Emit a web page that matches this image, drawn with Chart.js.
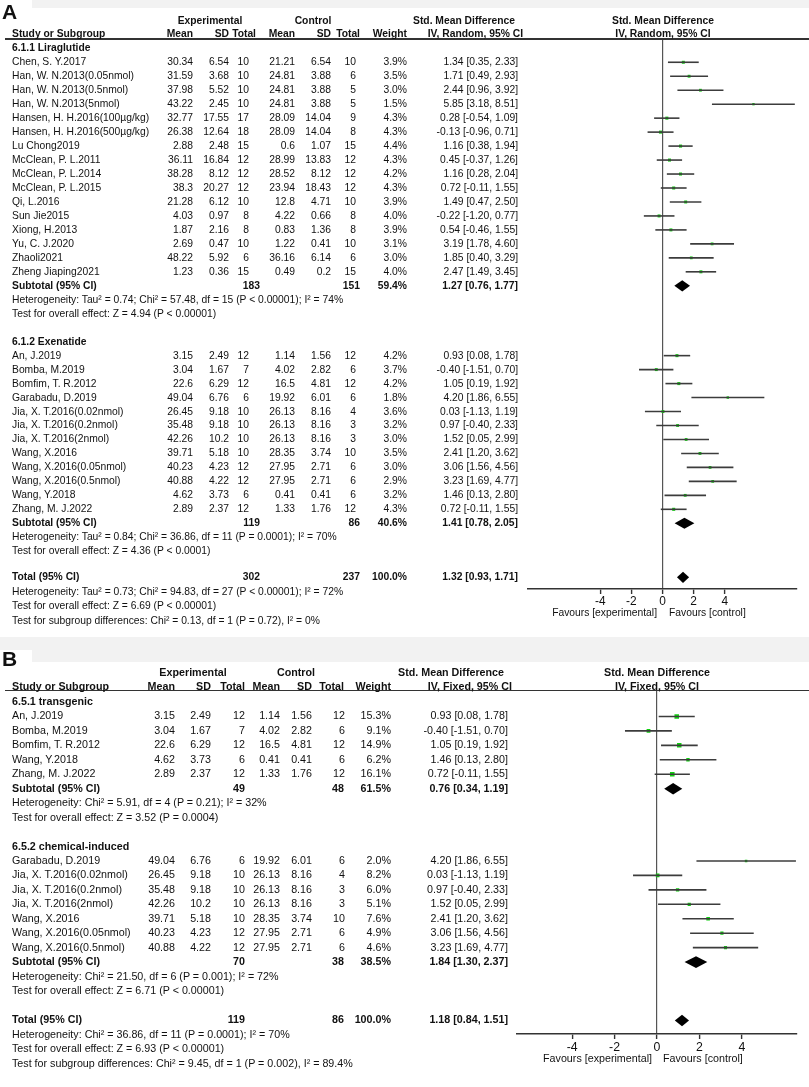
<!DOCTYPE html>
<html>
<head>
<meta charset="utf-8">
<script src="https://cdn.jsdelivr.net/npm/chart.js@4.4.1/dist/chart.umd.min.js"></script>
<style>
  body { margin: 0; background: #fff; width: 809px; height: 1087px; overflow: hidden;
         font-family: "Liberation Sans", Arial, sans-serif; color: #111; }
  .panel { position: absolute; left: 0; width: 809px; }
  .panel canvas { position: absolute; left: 0; top: 0; }
  .t { position: absolute; white-space: nowrap; line-height: 1; }
  .b { font-weight: bold; }
  .strip { position: absolute; background: #f2f2f2; }
  .letter { position: absolute; left: 2px; font-weight: bold; font-size: 21px; line-height: 1; }
  .rule { position: absolute; height: 1.5px; background: #333; }
</style>
</head>
<body>
<div class="strip" style="left:32px;top:0;width:777px;height:8px"></div>
<div class="strip" style="left:0;top:637px;width:809px;height:13px"></div>
<div class="strip" style="left:32px;top:650px;width:777px;height:12px"></div>
<div class="panel" id="panelA" style="top:0;height:640px"><canvas id="chartA" width="809" height="640"></canvas></div>
<div class="panel" id="panelB" style="top:640px;height:447px"><canvas id="chartB" width="809" height="447"></canvas></div>
<script>
// ---- Panel A: 6.1 GLP-1 analogues, random effects ----
const aGroupLabels = ["6.1.1 Liraglutide", "6.1.2 Exenatide"];
const aStudies = [
    "Chen, S. Y.2017", "Han, W. N.2013(0.05nmol)", "Han, W. N.2013(0.5nmol)", "Han, W. N.2013(5nmol)",
    "Hansen, H. H.2016(100µg/kg)", "Hansen, H. H.2016(500µg/kg)", "Lu Chong2019", "McClean, P. L.2011",
    "McClean, P. L.2014", "McClean, P. L.2015", "Qi, L.2016", "Sun Jie2015", "Xiong, H.2013",
    "Yu, C. J.2020", "Zhaoli2021", "Zheng Jiaping2021",
    "An, J.2019", "Bomba, M.2019", "Bomfim, T. R.2012", "Garabadu, D.2019", "Jia, X. T.2016(0.02nmol)",
    "Jia, X. T.2016(0.2nmol)", "Jia, X. T.2016(2nmol)", "Wang, X.2016", "Wang, X.2016(0.05nmol)",
    "Wang, X.2016(0.5nmol)", "Wang, Y.2018", "Zhang, M. J.2022"
];
const aGroup = [0,0,0,0,0,0,0,0,0,0,0,0,0,0,0,0, 1,1,1,1,1,1,1,1,1,1,1,1];
const aExpMean = [30.34, 31.59, 37.98, 43.22, 32.77, 26.38, 2.88, 36.11, 38.28, 38.3, 21.28, 4.03, 1.87, 2.69, 48.22, 1.23,
                  3.15, 3.04, 22.6, 49.04, 26.45, 35.48, 42.26, 39.71, 40.23, 40.88, 4.62, 2.89];
const aExpSD = [6.54, 3.68, 5.52, 2.45, 17.55, 12.64, 2.48, 16.84, 8.12, 20.27, 6.12, 0.97, 2.16, 0.47, 5.92, 0.36,
                2.49, 1.67, 6.29, 6.76, 9.18, 9.18, 10.2, 5.18, 4.23, 4.22, 3.73, 2.37];
const aExpN = [10, 10, 10, 10, 17, 18, 15, 12, 12, 12, 10, 8, 8, 10, 6, 15,
               12, 7, 12, 6, 10, 10, 10, 10, 12, 12, 6, 12];
const aCtlMean = [21.21, 24.81, 24.81, 24.81, 28.09, 28.09, 0.6, 28.99, 28.52, 23.94, 12.8, 4.22, 0.83, 1.22, 36.16, 0.49,
                  1.14, 4.02, 16.5, 19.92, 26.13, 26.13, 26.13, 28.35, 27.95, 27.95, 0.41, 1.33];
const aCtlSD = [6.54, 3.88, 3.88, 3.88, 14.04, 14.04, 1.07, 13.83, 8.12, 18.43, 4.71, 0.66, 1.36, 0.41, 6.14, 0.2,
                1.56, 2.82, 4.81, 6.01, 8.16, 8.16, 8.16, 3.74, 2.71, 2.71, 0.41, 1.76];
const aCtlN = [10, 6, 5, 5, 9, 8, 15, 12, 12, 12, 10, 8, 8, 10, 6, 15,
               12, 6, 12, 6, 4, 3, 3, 10, 6, 6, 6, 12];
const aWeight = [3.9, 3.5, 3.0, 1.5, 4.3, 4.3, 4.4, 4.3, 4.2, 4.3, 3.9, 4.0, 3.9, 3.1, 3.0, 4.0,
                 4.2, 3.7, 4.2, 1.8, 3.6, 3.2, 3.0, 3.5, 3.0, 2.9, 3.2, 4.3];
const aSMD = [1.34, 1.71, 2.44, 5.85, 0.28, -0.13, 1.16, 0.45, 1.16, 0.72, 1.49, -0.22, 0.54, 3.19, 1.85, 2.47,
              0.93, -0.40, 1.05, 4.20, 0.03, 0.97, 1.52, 2.41, 3.06, 3.23, 1.46, 0.72];
const aLo = [0.35, 0.49, 0.96, 3.18, -0.54, -0.96, 0.38, -0.37, 0.28, -0.11, 0.47, -1.20, -0.46, 1.78, 0.40, 1.49,
             0.08, -1.51, 0.19, 1.86, -1.13, -0.40, 0.05, 1.20, 1.56, 1.69, 0.13, -0.11];
const aHi = [2.33, 2.93, 3.92, 8.51, 1.09, 0.71, 1.94, 1.26, 2.04, 1.55, 2.50, 0.77, 1.55, 4.60, 3.29, 3.45,
             1.78, 0.70, 1.92, 6.55, 1.19, 2.33, 2.99, 3.62, 4.56, 4.77, 2.80, 1.55];
const aSubExpN = [183, 119];
const aSubCtlN = [151, 86];
const aSubWeight = [59.4, 40.6];
const aSubSMD = [1.27, 1.41];
const aSubLo = [0.76, 0.78];
const aSubHi = [1.77, 2.05];
const aSubHet = ["Heterogeneity: Tau² = 0.74; Chi² = 57.48, df = 15 (P < 0.00001); I² = 74%",
                 "Heterogeneity: Tau² = 0.84; Chi² = 36.86, df = 11 (P = 0.0001); I² = 70%"];
const aSubTest = ["Test for overall effect: Z = 4.94 (P < 0.00001)",
                  "Test for overall effect: Z = 4.36 (P < 0.0001)"];
const aTotalN = [302, 237];
const aTotalCI = [1.32, 0.93, 1.71];
const aFooter = ["Heterogeneity: Tau² = 0.73; Chi² = 94.83, df = 27 (P < 0.00001); I² = 72%",
                 "Test for overall effect: Z = 6.69 (P < 0.00001)",
                 "Test for subgroup differences: Chi² = 0.13, df = 1 (P = 0.72), I² = 0%"];

// ---- Panel B: 6.5 by model, fixed effect ----
const bGroupLabels = ["6.5.1 transgenic", "6.5.2 chemical-induced"];
const bStudies = [
    "An, J.2019", "Bomba, M.2019", "Bomfim, T. R.2012", "Wang, Y.2018", "Zhang, M. J.2022",
    "Garabadu, D.2019", "Jia, X. T.2016(0.02nmol)", "Jia, X. T.2016(0.2nmol)", "Jia, X. T.2016(2nmol)",
    "Wang, X.2016", "Wang, X.2016(0.05nmol)", "Wang, X.2016(0.5nmol)"
];
const bGroup = [0,0,0,0,0, 1,1,1,1,1,1,1];
const bExpMean = [3.15, 3.04, 22.6, 4.62, 2.89, 49.04, 26.45, 35.48, 42.26, 39.71, 40.23, 40.88];
const bExpSD = [2.49, 1.67, 6.29, 3.73, 2.37, 6.76, 9.18, 9.18, 10.2, 5.18, 4.23, 4.22];
const bExpN = [12, 7, 12, 6, 12, 6, 10, 10, 10, 10, 12, 12];
const bCtlMean = [1.14, 4.02, 16.5, 0.41, 1.33, 19.92, 26.13, 26.13, 26.13, 28.35, 27.95, 27.95];
const bCtlSD = [1.56, 2.82, 4.81, 0.41, 1.76, 6.01, 8.16, 8.16, 8.16, 3.74, 2.71, 2.71];
const bCtlN = [12, 6, 12, 6, 12, 6, 4, 3, 3, 10, 6, 6];
const bWeight = [15.3, 9.1, 14.9, 6.2, 16.1, 2.0, 8.2, 6.0, 5.1, 7.6, 4.9, 4.6];
const bSMD = [0.93, -0.40, 1.05, 1.46, 0.72, 4.20, 0.03, 0.97, 1.52, 2.41, 3.06, 3.23];
const bLo = [0.08, -1.51, 0.19, 0.13, -0.11, 1.86, -1.13, -0.40, 0.05, 1.20, 1.56, 1.69];
const bHi = [1.78, 0.70, 1.92, 2.80, 1.55, 6.55, 1.19, 2.33, 2.99, 3.62, 4.56, 4.77];
const bSubExpN = [49, 70];
const bSubCtlN = [48, 38];
const bSubWeight = [61.5, 38.5];
const bSubSMD = [0.76, 1.84];
const bSubLo = [0.34, 1.30];
const bSubHi = [1.19, 2.37];
const bSubHet = ["Heterogeneity: Chi² = 5.91, df = 4 (P = 0.21); I² = 32%",
                 "Heterogeneity: Chi² = 21.50, df = 6 (P = 0.001); I² = 72%"];
const bSubTest = ["Test for overall effect: Z = 3.52 (P = 0.0004)",
                  "Test for overall effect: Z = 6.71 (P < 0.00001)"];
const bTotalN = [119, 86];
const bTotalCI = [1.18, 0.84, 1.51];
const bFooter = ["Heterogeneity: Chi² = 36.86, df = 11 (P = 0.0001); I² = 70%",
                 "Test for overall effect: Z = 6.93 (P < 0.00001)",
                 "Test for subgroup differences: Chi² = 9.45, df = 1 (P = 0.002), I² = 89.4%"];

const xTickValues = [-4, -2, 0, 2, 4];

// draws summary diamonds (subtotal / total) on the library's scales
const diamondPlugin = {
    id: "diamonds",
    afterDatasetsDraw(chart, args, opts) {
        const { ctx, scales: { x, y } } = chart;
        ctx.save();
        ctx.fillStyle = opts.color;
        opts.items.forEach(d => {
            const yc = y.getPixelForValue(d.row);
            const h = Math.abs(y.getPixelForValue(d.row + opts.half) - yc);
            ctx.beginPath();
            ctx.moveTo(x.getPixelForValue(d.lo), yc);
            ctx.lineTo(x.getPixelForValue(d.est), yc - h);
            ctx.lineTo(x.getPixelForValue(d.hi), yc);
            ctx.lineTo(x.getPixelForValue(d.est), yc + h);
            ctx.closePath();
            ctx.fill();
        });
        ctx.restore();
    }
};

let squeeze = 0.91;

function put(box, text, x, y, align, bold, size) {
    const d = document.createElement("div");
    d.className = "t" + (bold ? " b" : "");
    d.textContent = text;
    d.style.left = x + "px";
    d.style.top = y + "px";
    d.style.fontSize = size + "px";
    const tx = align === "right" ? "-100%" : align === "center" ? "-50%" : "0";
    d.style.transformOrigin = align === "right" ? "100% 50%" : align === "center" ? "50% 50%" : "0 50%";
    d.style.transform = `translate(${tx}, -50%) scaleX(${squeeze})`;
    box.appendChild(d);
}

const ci = (e, l, h) => `${e.toFixed(2)} [${l.toFixed(2)}, ${h.toFixed(2)}]`;

function buildRows(p) {
    const rows = [];
    let r = 0;
    p.groupLabels.forEach((label, g) => {
        rows.push({ kind: "group", row: r++, text: label });
        p.studies.forEach((name, i) => {
            if (p.group[i] === g) rows.push({ kind: "study", row: r++, i: i });
        });
        rows.push({ kind: "sub", row: r++, g: g });
        rows.push({ kind: "note", row: r++, text: p.subHet[g] });
        rows.push({ kind: "note", row: r++, text: p.subTest[g] });
        r++;
    });
    const totalRow = r - 2 + p.L.totalGap;
    rows.push({ kind: "total", row: totalRow });
    p.footer.forEach((t, k) => rows.push({ kind: "note", row: totalRow + (k + 1) * p.L.footPitch, text: t }));
    return rows;
}

function drawPanel(p) {
    const L = p.L;
    squeeze = L.squeeze;
    const rows = buildRows(p);
    const studyRows = rows.filter(r => r.kind === "study");
    const diamonds = [];
    rows.forEach(r => {
        if (r.kind === "sub") diamonds.push({ row: r.row, est: p.subSMD[r.g], lo: p.subLo[r.g], hi: p.subHi[r.g] });
        if (r.kind === "total") diamonds.push({ row: r.row, est: p.totalCI[0], lo: p.totalCI[1], hi: p.totalCI[2] });
    });

    const datasets = studyRows.map(r => ({
        data: [{ x: p.lo[r.i], y: r.row }, { x: p.hi[r.i], y: r.row }],
        showLine: true,
        borderColor: "#3c3c3c",
        borderWidth: 1.6,
        pointRadius: 0
    }));
    datasets.push({
        data: studyRows.map(r => ({ x: p.smd[r.i], y: r.row })),
        pointStyle: "rect",
        pointRadius: studyRows.map(r => (1.4 + 0.8 * Math.sqrt(p.weight[r.i])) / Math.SQRT2),
        pointBorderWidth: 0,
        backgroundColor: "#10d010"
    });

    const yMin = -(L.row0 - L.sepY) / L.pitch;
    const yMax = yMin + (L.axisY - L.sepY) / L.pitch;

    const chart = new Chart(document.getElementById(p.canvas), {
        type: "scatter",
        data: { datasets: datasets },
        plugins: [diamondPlugin],
        options: {
            responsive: false,
            animation: false,
            events: [],
            layout: { padding: { left: L.plotLeft, right: 809 - L.plotRight, top: L.sepY, bottom: L.height - L.axisY - 30 } },
            plugins: {
                legend: { display: false },
                tooltip: { enabled: false },
                diamonds: { items: diamonds, half: 0.4, color: "#000" }
            },
            scales: {
                x: {
                    type: "linear",
                    min: L.xMin,
                    max: L.xMax,
                    afterBuildTicks: s => { s.ticks = xTickValues.map(v => ({ value: v })); },
                    afterFit: s => { s.height = 30; },
                    ticks: { autoSkip: false, color: "#111", padding: 1, font: { family: "'Liberation Sans', Arial", size: L.font + 0.5 } },
                    grid: {
                        color: c => (c.tick && c.tick.value === 0 ? "#555" : "rgba(0,0,0,0)"),
                        lineWidth: 1.2,
                        tickColor: "#333",
                        tickLength: 5,
                        tickWidth: 1.4
                    },
                    border: { display: true, color: "#333", width: 1.6 }
                },
                y: { type: "linear", reverse: true, min: yMin, max: yMax, display: false }
            }
        }
    });

    // table text, placed on the chart's own row scale
    const box = document.getElementById(p.box);
    const ys = chart.scales.y, xs = chart.scales.x;
    const C = L.cols, fs = L.font;
    const zero = xs.getPixelForValue(0);

    const rule = document.createElement("div");
    rule.className = "rule";
    rule.style.left = "5px"; rule.style.width = "804px"; rule.style.top = (L.sepY - 0.75) + "px";
    box.appendChild(rule);

    const letter = document.createElement("div");
    letter.className = "letter";
    letter.textContent = p.letter;
    letter.style.top = L.letterY + "px";
    box.appendChild(letter);

    put(box, "Experimental", L.hdr.exp, L.hdr.y1, "center", true, fs);
    put(box, "Control", L.hdr.ctl, L.hdr.y1, "center", true, fs);
    put(box, "Std. Mean Difference", L.hdr.smd1, L.hdr.y1, "right", true, fs);
    put(box, "Std. Mean Difference", zero, L.hdr.y1, "center", true, fs);
    put(box, "Study or Subgroup", C.name, L.hdr.y2, "left", true, fs);
    put(box, "Mean", C.expMean, L.hdr.y2, "right", true, fs);
    put(box, "SD", C.expSD, L.hdr.y2, "right", true, fs);
    put(box, "Total", L.hdr.expN, L.hdr.y2, "right", true, fs);
    put(box, "Mean", C.ctlMean, L.hdr.y2, "right", true, fs);
    put(box, "SD", C.ctlSD, L.hdr.y2, "right", true, fs);
    put(box, "Total", L.hdr.ctlN, L.hdr.y2, "right", true, fs);
    put(box, "Weight", C.weight, L.hdr.y2, "right", true, fs);
    put(box, p.method, L.hdr.smd2, L.hdr.y2, "right", true, fs);
    put(box, p.method, zero, L.hdr.y2, "center", true, fs);

    rows.forEach(r => {
        const y = ys.getPixelForValue(r.row);
        if (r.kind === "group") put(box, r.text, C.name, y, "left", true, fs);
        if (r.kind === "note") put(box, r.text, C.name, y, "left", false, fs);
        if (r.kind === "study") {
            const i = r.i;
            put(box, p.studies[i], C.name, y, "left", false, fs);
            put(box, String(p.expMean[i]), C.expMean, y, "right", false, fs);
            put(box, String(p.expSD[i]), C.expSD, y, "right", false, fs);
            put(box, String(p.expN[i]), C.expN, y, "right", false, fs);
            put(box, String(p.ctlMean[i]), C.ctlMean, y, "right", false, fs);
            put(box, String(p.ctlSD[i]), C.ctlSD, y, "right", false, fs);
            put(box, String(p.ctlN[i]), C.ctlN, y, "right", false, fs);
            put(box, p.weight[i].toFixed(1) + "%", C.weight, y, "right", false, fs);
            put(box, ci(p.smd[i], p.lo[i], p.hi[i]), C.ci, y, "right", false, fs);
        }
        if (r.kind === "sub" || r.kind === "total") {
            const isSub = r.kind === "sub";
            put(box, isSub ? "Subtotal (95% CI)" : "Total (95% CI)", C.name, y, "left", true, fs);
            put(box, String(isSub ? p.subExpN[r.g] : p.totalN[0]), L.hdr.expN + L.subShift, y, "right", true, fs);
            put(box, String(isSub ? p.subCtlN[r.g] : p.totalN[1]), L.hdr.ctlN, y, "right", true, fs);
            put(box, (isSub ? p.subWeight[r.g] : 100).toFixed(1) + "%", C.weight, y, "right", true, fs);
            put(box, isSub ? ci(p.subSMD[r.g], p.subLo[r.g], p.subHi[r.g]) : ci(p.totalCI[0], p.totalCI[1], p.totalCI[2]),
                C.ci, y, "right", true, fs);
        }
    });

    put(box, "Favours [experimental]", zero - 5.5, L.favY, "right", false, fs);
    put(box, "Favours [control]", zero + 6, L.favY, "left", false, fs);
}

drawPanel({
    canvas: "chartA", box: "panelA", letter: "A", method: "IV, Random, 95% CI",
    groupLabels: aGroupLabels, studies: aStudies, group: aGroup,
    expMean: aExpMean, expSD: aExpSD, expN: aExpN, ctlMean: aCtlMean, ctlSD: aCtlSD, ctlN: aCtlN,
    weight: aWeight, smd: aSMD, lo: aLo, hi: aHi,
    subExpN: aSubExpN, subCtlN: aSubCtlN, subWeight: aSubWeight, subSMD: aSubSMD, subLo: aSubLo, subHi: aSubHi,
    subHet: aSubHet, subTest: aSubTest, totalN: aTotalN, totalCI: aTotalCI, footer: aFooter,
    L: {
        height: 640, plotLeft: 528, plotRight: 797, sepY: 39, row0: 48.3, pitch: 13.97, axisY: 589,
        xMin: -8.65, xMax: 8.65, font: 11.4, squeeze: 0.905, totalGap: 1.87, footPitch: 1.03, favY: 613, letterY: 1, subShift: 4,
        cols: { name: 12, expMean: 193, expSD: 228.5, expN: 249, ctlMean: 295, ctlSD: 331, ctlN: 356, weight: 407, ci: 518 },
        hdr: { exp: 210, ctl: 313, expN: 256, ctlN: 360, smd1: 515, smd2: 523, y1: 20.7, y2: 34 }
    }
});

drawPanel({
    canvas: "chartB", box: "panelB", letter: "B", method: "IV, Fixed, 95% CI",
    groupLabels: bGroupLabels, studies: bStudies, group: bGroup,
    expMean: bExpMean, expSD: bExpSD, expN: bExpN, ctlMean: bCtlMean, ctlSD: bCtlSD, ctlN: bCtlN,
    weight: bWeight, smd: bSMD, lo: bLo, hi: bHi,
    subExpN: bSubExpN, subCtlN: bSubCtlN, subWeight: bSubWeight, subSMD: bSubSMD, subLo: bSubLo, subHi: bSubHi,
    subHet: bSubHet, subTest: bSubTest, totalN: bTotalN, totalCI: bTotalCI, footer: bFooter,
    L: {
        height: 447, plotLeft: 517, plotRight: 797, sepY: 50.7, row0: 62, pitch: 14.45, axisY: 394,
        xMin: -6.6, xMax: 6.6, font: 11.8, squeeze: 0.908, totalGap: 2.04, footPitch: 1.0, favY: 419, letterY: 8, subShift: 0,
        cols: { name: 12, expMean: 175, expSD: 210.7, expN: 245, ctlMean: 279.5, ctlSD: 311.7, ctlN: 344.5, weight: 390.7, ci: 508.3 },
        hdr: { exp: 193, ctl: 296, expN: 245, ctlN: 344, smd1: 504, smd2: 511.7, y1: 32.7, y2: 46.7 }
    }
});
</script>
</body>
</html>
